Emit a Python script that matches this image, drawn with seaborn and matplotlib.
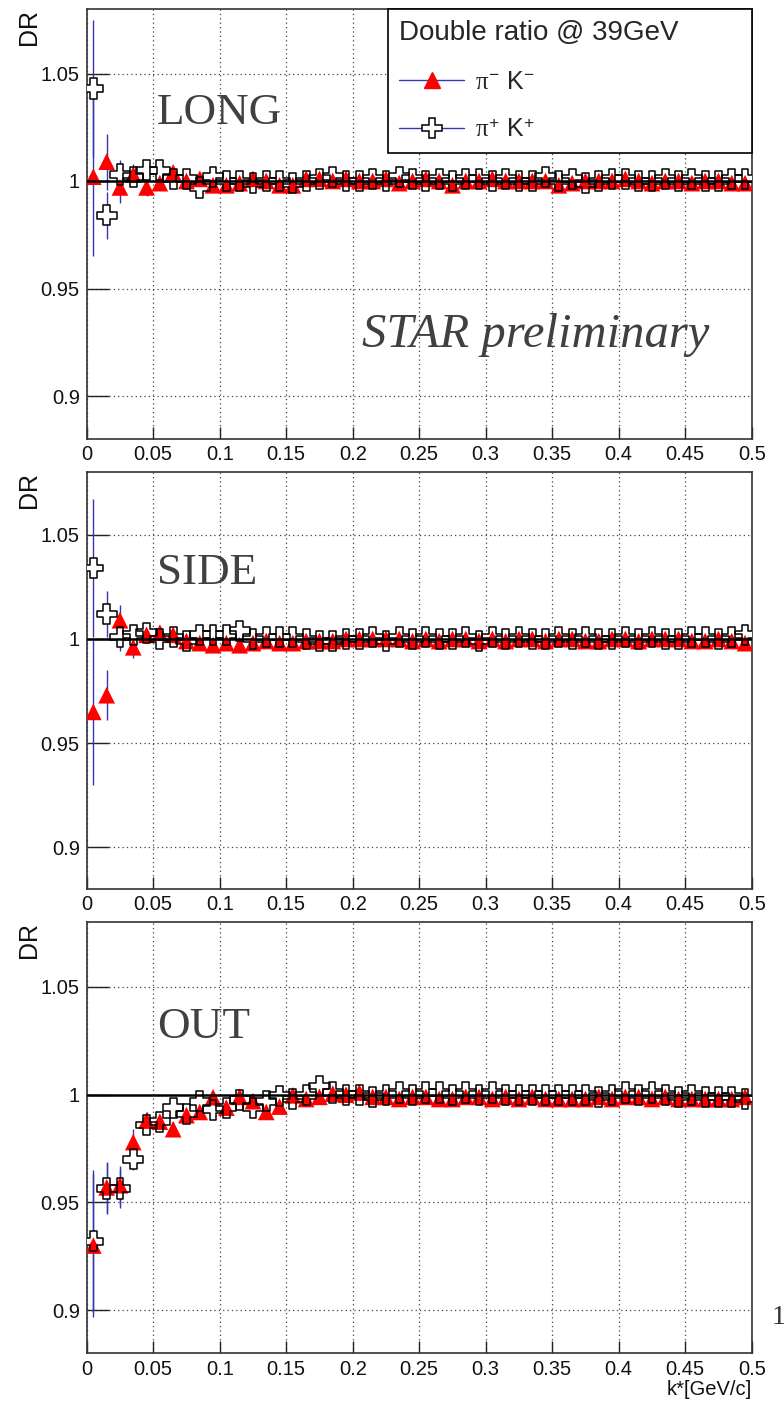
import numpy as np
import pandas as pd
import matplotlib
matplotlib.use("Agg")
import matplotlib.pyplot as plt
from matplotlib.lines import Line2D
import seaborn as sns

# ---------------- data ----------------
kstar = [0.005, 0.015, 0.025, 0.035, 0.045, 0.055, 0.065, 0.075, 0.085, 0.095,
         0.105, 0.115, 0.125, 0.135, 0.145, 0.155, 0.165, 0.175, 0.185, 0.195,
         0.205, 0.215, 0.225, 0.235, 0.245, 0.255, 0.265, 0.275, 0.285, 0.295,
         0.305, 0.315, 0.325, 0.335, 0.345, 0.355, 0.365, 0.375, 0.385, 0.395,
         0.405, 0.415, 0.425, 0.435, 0.445, 0.455, 0.465, 0.475, 0.485, 0.495]

long_mm = [1.002, 1.009, 0.997, 1.003, 0.997, 0.999, 1.004, 1.000, 1.001, 0.998,
           0.998, 0.999, 1.001, 1.000, 0.998, 0.998, 1.001, 1.001, 1.000, 1.001,
           1.000, 1.000, 1.001, 0.999, 1.000, 1.001, 1.000, 0.998, 1.000, 1.000,
           1.001, 1.000, 1.000, 1.000, 1.000, 0.998, 0.999, 1.000, 1.000, 1.000,
           1.001, 1.000, 0.999, 1.000, 1.000, 0.999, 1.000, 1.000, 0.999, 0.999]
long_pp = [1.043, 0.984, 1.003, 1.002, 1.005, 1.005, 1.001, 1.001, 0.997, 1.002,
           1.000, 1.000, 0.999, 1.000, 1.000, 0.999, 1.000, 1.001, 1.002, 1.000,
           1.000, 1.001, 1.000, 1.002, 1.001, 1.000, 1.001, 1.000, 1.001, 1.001,
           1.000, 1.001, 1.000, 1.000, 1.002, 1.000, 1.001, 0.999, 1.000, 1.001,
           1.001, 1.000, 1.000, 1.001, 1.000, 1.001, 1.000, 1.000, 1.001, 1.001]
long_mm_err = [0.037, 0.013, 0.007, 0.005, 0.004, 0.003, 0.003, 0.003, 0.003, 0.002] + [0.002] * 40
long_pp_err = [0.032, 0.011, 0.007, 0.005, 0.004, 0.003, 0.003, 0.003, 0.003, 0.002] + [0.002] * 40

side_mm = [0.965, 0.973, 1.009, 0.996, 1.002, 1.003, 1.002, 0.999, 0.998, 0.997,
           0.998, 0.997, 0.998, 0.999, 0.998, 0.998, 0.999, 0.999, 0.999, 1.000,
           1.000, 1.000, 1.000, 1.000, 0.999, 1.000, 0.999, 1.000, 1.000, 0.999,
           1.000, 0.999, 1.000, 1.000, 0.999, 1.000, 1.000, 0.999, 0.999, 1.000,
           1.000, 0.999, 1.000, 1.000, 1.000, 0.999, 0.999, 1.000, 0.999, 0.998]
side_pp = [1.034, 1.012, 1.001, 1.002, 1.003, 1.000, 1.001, 0.999, 1.002, 1.002,
           1.002, 1.004, 1.000, 1.001, 1.001, 1.001, 1.000, 0.999, 0.999, 1.000,
           1.000, 1.001, 0.999, 1.001, 1.000, 1.001, 1.000, 1.000, 1.001, 0.999,
           1.001, 1.000, 1.001, 1.000, 1.000, 1.001, 1.000, 1.001, 1.000, 1.000,
           1.001, 1.000, 1.001, 1.000, 1.000, 1.001, 1.001, 1.000, 1.001, 1.002]
side_mm_err = [0.035, 0.012, 0.0075, 0.005, 0.004, 0.003, 0.003, 0.003, 0.003, 0.002] + [0.002] * 40
side_pp_err = [0.033, 0.011, 0.007, 0.005, 0.004, 0.003, 0.003, 0.003, 0.003, 0.002] + [0.002] * 40

out_mm = [0.930, 0.957, 0.958, 0.978, 0.988, 0.9875, 0.984, 0.9905, 0.992, 0.9988,
          0.994, 0.999, 0.997, 0.992, 0.9945, 0.9997, 0.998, 0.999, 1.0005, 1.000,
          1.001, 0.999, 0.999, 0.998, 0.999, 0.999, 0.998, 0.998, 0.999, 0.999,
          0.998, 0.999, 0.998, 0.999, 0.998, 0.998, 0.998, 0.998, 0.999, 0.998,
          0.999, 0.999, 0.998, 0.999, 0.998, 0.998, 0.998, 0.998, 0.998, 0.999]
out_pp = [0.932, 0.9565, 0.9565, 0.970, 0.986, 0.9875, 0.994, 0.991, 0.997, 0.993,
          0.994, 0.9977, 0.994, 0.997, 0.9995, 0.998, 0.9997, 1.004, 1.001, 1.000,
          1.000, 0.999, 1.000, 1.001, 1.000, 1.001, 1.001, 1.000, 1.001, 1.000,
          1.001, 1.000, 1.000, 1.000, 1.000, 1.000, 1.000, 1.000, 0.999, 1.000,
          1.001, 1.000, 1.001, 1.000, 0.999, 1.000, 0.999, 0.999, 0.999, 0.998]
out_mm_err = [0.033, 0.012, 0.009, 0.006, 0.004, 0.003, 0.003, 0.003, 0.003, 0.002] + [0.002] * 40
out_pp_err = [0.033, 0.012, 0.009, 0.005, 0.004, 0.003, 0.003, 0.003, 0.003, 0.002] + [0.002] * 40

panel_names = ["LONG", "SIDE", "OUT"]
xticks = [0, 0.05, 0.1, 0.15, 0.2, 0.25, 0.3, 0.35, 0.4, 0.45, 0.5]
xtick_labels = ["0", "0.05", "0.1", "0.15", "0.2", "0.25", "0.3", "0.35", "0.4", "0.45", "0.5"]
yticks = [0.9, 0.95, 1.0, 1.05]
ytick_labels = ["0.9", "0.95", "1", "1.05"]
label_mm = r"$\pi^{-}$ K$^{-}$"
label_pp = r"$\pi^{+}$ K$^{+}$"
legend_title = "Double ratio @ 39GeV"

# ---------------- style ----------------
sns.set_theme(style="white")
plt.rcParams["font.family"] = ["Liberation Sans", "DejaVu Sans"]
plt.rcParams["mathtext.fontset"] = "custom"
plt.rcParams["mathtext.rm"] = "Liberation Sans"
plt.rcParams["mathtext.it"] = "Liberation Serif"
plt.rcParams["mathtext.default"] = "it"

W, H = 784, 1401
fig = plt.figure(figsize=(W / 100, H / 100), dpi=100)
fig.patch.set_facecolor("white")

left_px, right_px = 86.7, 751.7
panels_px = [(9, 439), (472.3, 889), (922.3, 1353.3)]

series = [
    (long_mm, long_mm_err, long_pp, long_pp_err),
    (side_mm, side_mm_err, side_pp, side_pp_err),
    (out_mm, out_mm_err, out_pp, out_pp_err),
]

RED = "#ff0000"
BLUE = "#3535b5"
TXT = "#404040"
ms_tri = 12
ms_cross = 14.5

for i, (name, (mm, mme, pp, ppe), (top, bot)) in enumerate(zip(panel_names, series, panels_px)):
    ax = fig.add_axes([left_px / W, 1 - bot / H, (right_px - left_px) / W, (bot - top) / H])
    ax.set_facecolor("white")
    df = pd.DataFrame({"k": kstar, "mm": mm, "mme": mme, "pp": pp, "ppe": ppe})

    ax.errorbar(df["k"], df["mm"], yerr=df["mme"], fmt="none", ecolor=BLUE, elinewidth=1.0, capsize=0, zorder=2)
    ax.errorbar(df["k"], df["pp"], yerr=df["ppe"], fmt="none", ecolor=BLUE, elinewidth=1.0, capsize=0, zorder=2)
    # white interior of open crosses (hides error bar through marker)
    sns.scatterplot(data=df, x="k", y="pp", marker="P", s=ms_cross ** 2, color="white",
                    edgecolor="none", linewidth=0, ax=ax, legend=False, zorder=3)
    sns.scatterplot(data=df, x="k", y="mm", marker="^", s=ms_tri ** 2, color=RED,
                    edgecolor="none", linewidth=0, ax=ax, legend=False, zorder=4)
    ax.axhline(1.0, color="black", lw=1.8, zorder=5)
    sns.scatterplot(data=df, x="k", y="pp", marker="P", s=ms_cross ** 2, facecolor="none",
                    edgecolor="black", linewidth=1.1, ax=ax, legend=False, zorder=6)

    ax.set_xlim(0, 0.5)
    ax.set_ylim(0.88, 1.08)
    ax.set_xticks(xticks)
    ax.set_xticklabels(xtick_labels)
    ax.set_yticks(yticks)
    ax.set_yticklabels(ytick_labels)
    ax.tick_params(axis="x", direction="in", length=8.6, width=1.0, color="#222222",
                   labelsize=14.5, pad=4.5, labelcolor="#111111", bottom=True, top=False)
    ax.tick_params(axis="y", direction="in", length=15.8, width=1.0, color="#222222",
                   labelsize=14.5, pad=5, labelcolor="#111111", left=True, right=False)
    ax.grid(True, color="#444444", linestyle=(0, (1, 2.5)), linewidth=0.9)
    ax.set_axisbelow(True)
    for sp in ax.spines.values():
        sp.set_color("#333333")
        sp.set_linewidth(1.2)
        sp.set_visible(True)

    ax.set_ylabel("DR", loc="top", fontsize=18, color="#111111")
    ax.yaxis.set_label_coords(-0.068, 1.0)
    ax.set_xlabel("")

    ax.text(0.053, 1.0263, name, fontsize=32.5, family="Liberation Serif", color=TXT,
            ha="left", va="baseline", zorder=7)

    if i == 0:
        ax.text(0.207, 0.923, "STAR preliminary", fontsize=35, family="Liberation Serif",
                style="italic", color=TXT, ha="left", va="baseline", zorder=7)
        handles = [
            Line2D([], [], color=BLUE, lw=1.0, marker="^", ms=ms_tri, mfc=RED, mec=RED),
            Line2D([], [], color=BLUE, lw=1.0, marker="P", ms=ms_cross, mfc="white", mec="black", mew=1.1),
        ]
        leg = ax.legend(handles, [label_mm, label_pp], title=legend_title,
                        loc="upper left", bbox_to_anchor=(0.453, 1.0, 0.547, 0.0), mode="expand",
                        borderaxespad=0, frameon=True, fancybox=False, edgecolor="black",
                        framealpha=1, fontsize=18, title_fontsize=20, alignment="left",
                        handlelength=2.6, handletextpad=0.45, borderpad=0.45, labelspacing=0.95)
        leg.get_frame().set_linewidth(1.2)
        leg.set_zorder(10)
    if i == 2:
        ax.set_xlabel("k*[GeV/c]", loc="right", fontsize=14.5, color="#111111")
        ax.xaxis.set_label_coords(1.0, -0.062)

fig.text(772 / W, 1 - 1318 / H, "1", fontsize=20, family="Liberation Serif", color="#333333",
         ha="left", va="center")

fig.savefig("out.png", dpi=100)
